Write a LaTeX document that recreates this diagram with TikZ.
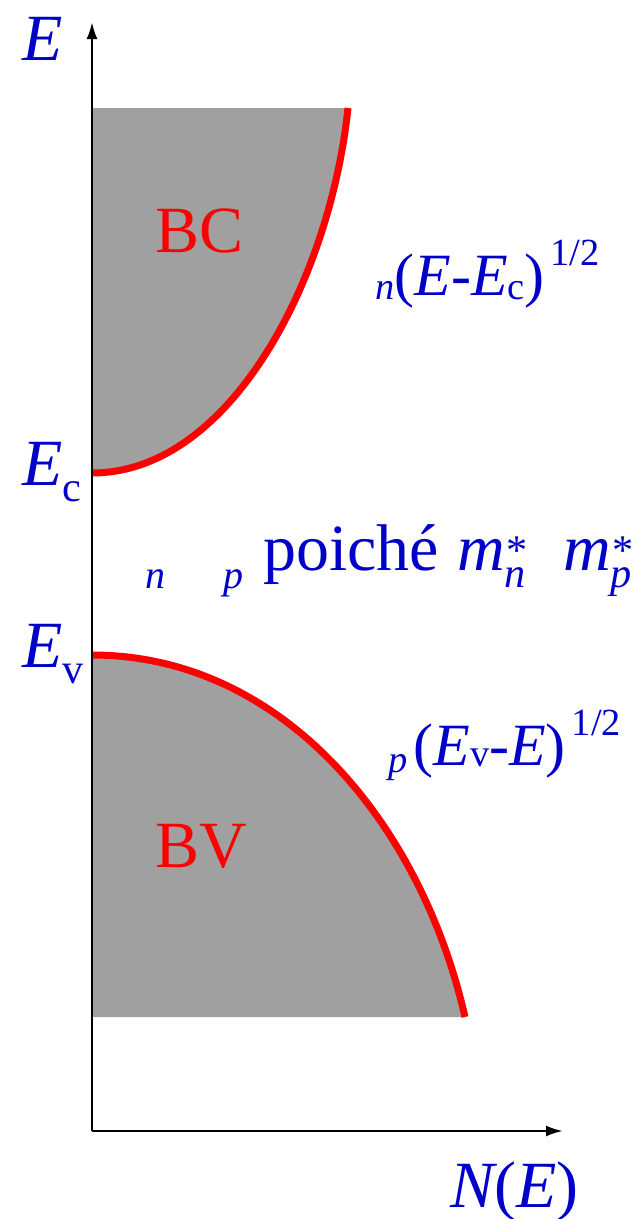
\documentclass[tikz,border=0pt]{standalone}
\usepackage{fontspec}
\newfontfamily\timesfont{Liberation Serif}
\usepackage{tikz}
\usetikzlibrary{arrows.meta,positioning}
\definecolor{lblblue}{RGB}{0,0,200}
\definecolor{bandgray}{RGB}{160,160,160}
\definecolor{dosred}{RGB}{255,0,0}
%% lowered / raised indices in text
\newcommand{\lowsub}[2][0.25em]{\raisebox{-#1}{\scalebox{0.64}{#2}}}
\newcommand{\highsup}[2][0.45em]{\raisebox{#1}{\scalebox{0.64}{#2}}}
\newcommand{\supsub}[2]{\rlap{\highsup[0.08em]{#1}}\lowsub[0.27em]{#2}}
\tikzset{
  %% axes
  axis/.style={line width=2.5pt, -{Latex[length=17pt, width=11pt]}},
  %% bands
  band/.style={fill=bandgray, draw=none},
  dos/.style={draw=dosred, line width=7pt},
  %% labels
  lbl/.style={text=lblblue, anchor=base west, inner sep=0pt,
    font=\timesfont\fontsize{66}{72}\selectfont},
  lblsm/.style={lbl, font=\timesfont\fontsize{60}{66}\selectfont},
  lblsub/.style={lbl, font=\timesfont\fontsize{40}{44}\selectfont\itshape},
  bandlbl/.style={lbl, text=dosred},
}

\begin{document}
\begin{tikzpicture}[x=1pt, y=-1pt]
\useasboundingbox (0,0) rectangle (633,1219);

%% Reference points (pixel grid, y down)
\coordinate (O)    at (92,1131);
\coordinate (Etip) at (92,22);
\coordinate (Ntip) at (563,1131);
\coordinate (Ec)   at (92,473);
\coordinate (BCtop) at (348,108);
\coordinate (Ev)   at (92,655);
\coordinate (BVbot) at (465,1017);

%% Conduction band
\fill[band] (92,108) -- (BCtop) .. controls (330,280) and (230,473) .. (Ec) -- cycle;
\draw[dos] (Ec) .. controls (230,473) and (330,280) .. (BCtop);

%% Valence band
\fill[band] (Ev) .. controls (280,655) and (420,820) .. (BVbot) -- (92,1017) -- cycle;
\draw[dos] (Ev) .. controls (280,655) and (420,820) .. (BVbot);

%% Axes
\draw[axis] (O) -- (Etip);
\draw[axis] (O) -- (Ntip);

%% Axis labels
\node[lbl] (lE)  at (22,60)  {\itshape E};
\node[lbl] (lEc) at (22,485) {\itshape E\lowsub{\upshape c}};
\node[lbl] (lEv) at (22,667) {\itshape E\lowsub{\upshape v}};
\node[lbl] (lN)  at (450,1207) {\itshape N\upshape(\itshape E\upshape)};

%% Band labels
\node[bandlbl] (lBC) at (155,252) {BC};
\node[bandlbl] (lBV) at (155,867) {BV};

%% Density of states
\node[lblsm] (dosn) at (375,295)
  {\lowsub[0.08em]{\itshape n}(\textit{E}-\textit{E}\lowsub[0.08em]{c})\hspace{0.1em}\highsup[0.5em]{1/2}};
\node[lblsm] (dosp) at (388,765)
  {\lowsub[0.12em]{\itshape p}\hspace{0.1em}(\textit{E}\lowsub[0.02em]{v}-\textit{E})\hspace{0.1em}\highsup[0.5em]{1/2}};

%% Middle line
\node[lblsub] (subn) at (145,588) {n};
\node[lblsub] (subp) at (223,588) {p};
\node[lbl] (poiche) at (263,570) {poiché};
\node[lbl] (mn) at (457,570) {\itshape m\supsub{*}{n}};
\node[lbl] (mp) at (563,570) {\itshape m\supsub{*}{p}};

\end{tikzpicture}
\end{document}
